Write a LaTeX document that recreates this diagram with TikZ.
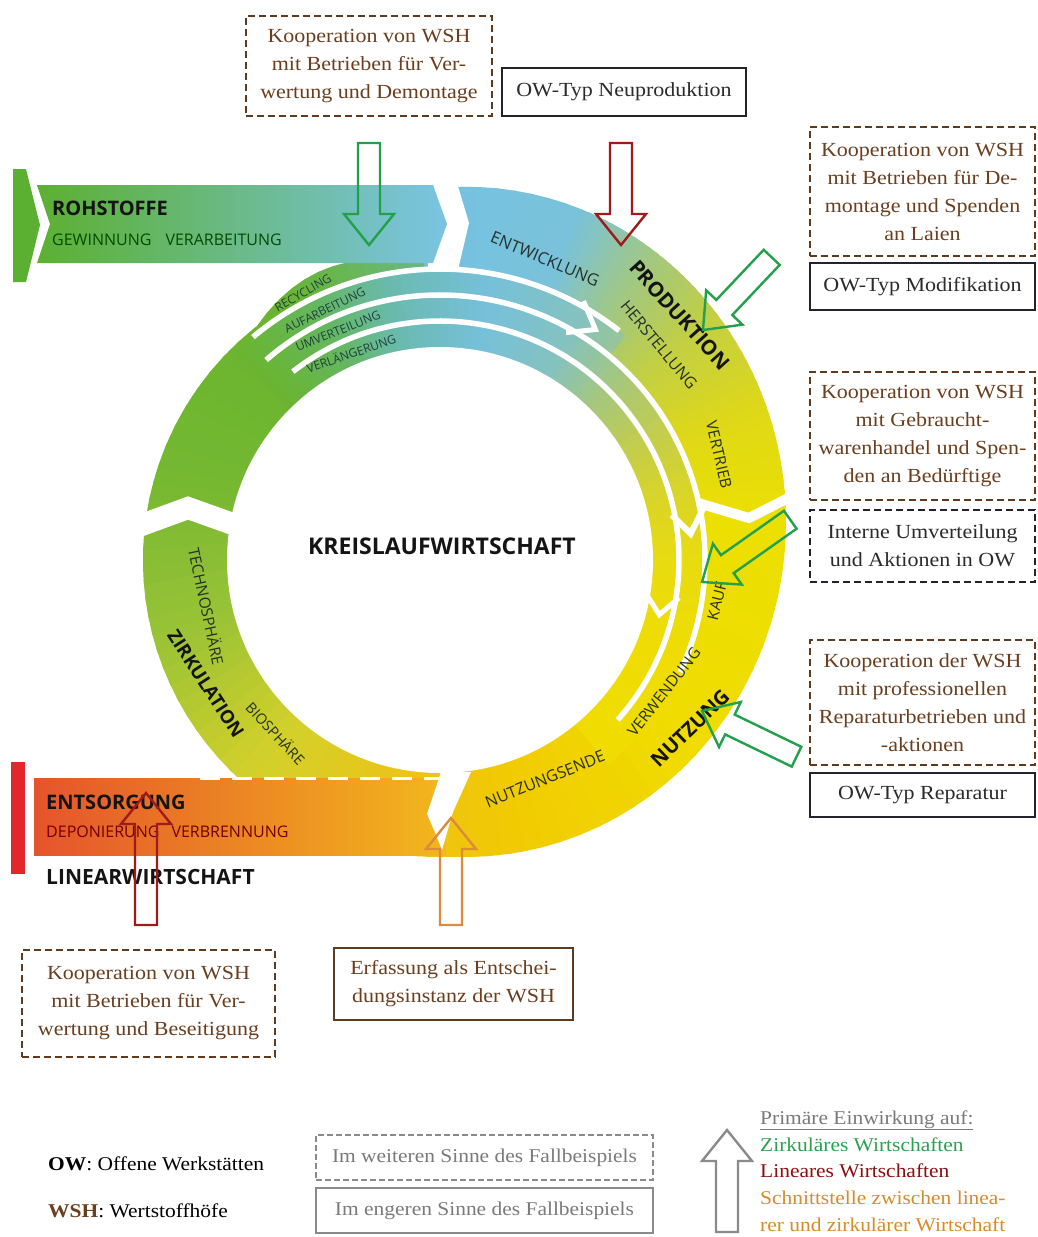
\documentclass[tikz,border=0pt]{standalone}
\usepackage{fontspec}
\setmainfont{Liberation Serif}
\newfontfamily\boxfont{Liberation Serif}[FakeStretch=1.1]
\newfontfamily\diafont{Open Sans}
\usetikzlibrary{calc}

% frame and text colours
\definecolor{cbrown}{HTML}{6A3E1E}
\definecolor{cbrownline}{HTML}{5E3A1E}
\definecolor{cnavy}{HTML}{23232F}
\definecolor{cdark}{HTML}{2B2B2B}
\definecolor{cgreenarrow}{HTML}{22A04C}
\definecolor{credarrow}{HTML}{A01A1A}
\definecolor{corangearrow}{HTML}{DC8A3C}
\definecolor{cgray}{HTML}{8A8A8A}
\definecolor{cgraytext}{HTML}{7A7A7A}
\definecolor{cgreentext}{HTML}{2DA050}
\definecolor{credtext}{HTML}{8B0F0F}
\definecolor{corangetext}{HTML}{D98B2B}
\definecolor{clabel}{HTML}{25302C}
\definecolor{clabelb}{HTML}{141414}
\definecolor{cthin}{HTML}{1F4040}
\definecolor{cbar}{HTML}{E3262B}
% ring colours (outer ring, by angle)
\definecolor{mA}{HTML}{74C1E3}
\definecolor{mB}{HTML}{7AC2DA}
\definecolor{mC}{HTML}{A2C880}
\definecolor{mD}{HTML}{C2CF44}
\definecolor{mE}{HTML}{E0D916}
\definecolor{mF}{HTML}{ECDF02}
\definecolor{mG}{HTML}{F0DC00}
\definecolor{mH}{HTML}{F1CB02}
\definecolor{mI}{HTML}{EFC214}
\definecolor{mJ}{HTML}{D4D02A}
\definecolor{mK}{HTML}{98C236}
\definecolor{mL}{HTML}{74B831}
\definecolor{mM}{HTML}{69B42F}
\definecolor{mN}{HTML}{68B882}
% inner loop colours
\definecolor{oA}{HTML}{6AB42E}
\definecolor{oB}{HTML}{64B762}
\definecolor{oC}{HTML}{6ABAB0}
\definecolor{oD}{HTML}{76C0DA}
\definecolor{oE}{HTML}{84C2C0}
\definecolor{oF}{HTML}{A6C77C}
\definecolor{oG}{HTML}{C4CD4C}
\definecolor{oH}{HTML}{DAD526}
\definecolor{oI}{HTML}{E8DB10}
\definecolor{oJ}{HTML}{EEDC04}
\definecolor{oK}{HTML}{F0DC00}
% bands
\definecolor{rohL}{HTML}{5CB031}
\definecolor{rohM}{HTML}{82C08E}
\definecolor{rohR}{HTML}{7AC4E4}
\definecolor{entL}{HTML}{E5542C}
\definecolor{entM}{HTML}{EE8A22}
\definecolor{entR}{HTML}{F2B81C}

% hollow block arrow: colour, tip, direction, length
\newcommand{\hollowarrow}[4]{%
  \draw[#1, line width=2.4pt, line join=miter, shift={#2}, rotate=#3]
    (0,0) -- (-31,25) -- (-31,11) -- (-#4,11) -- (-#4,-11) -- (-31,-11) -- (-31,-25) -- cycle;}

\begin{document}
\begin{tikzpicture}[x=1pt, y=1pt,
  coopbox/.style={draw=cbrownline, line width=2.3pt, dash pattern=on 7pt off 4pt,
    text=cbrown, font=\boxfont\fontsize{20}{28}\selectfont, align=center, inner sep=0pt, fill=white},
  owbox/.style={draw=cnavy, line width=2.3pt, text=cdark,
    font=\boxfont\fontsize{20}{28}\selectfont, align=center, inner sep=0pt, fill=white},
  owdash/.style={owbox, dash pattern=on 7pt off 4pt},
  erfbox/.style={draw=cbrownline, line width=2.3pt, text=cbrown,
    font=\boxfont\fontsize{20}{28}\selectfont, align=center, inner sep=0pt, fill=white},
  grayd/.style={draw=cgray, line width=1.8pt, dash pattern=on 6pt off 3pt, text=cgraytext,
    font=\boxfont\fontsize{19.5}{27}\selectfont, inner sep=0pt, minimum width=337, minimum height=45},
  grays/.style={draw=cgray, line width=1.8pt, text=cgraytext,
    font=\boxfont\fontsize{19.5}{27}\selectfont, inner sep=0pt, minimum width=337, minimum height=45},
  lbl/.style={font=\diafont\fontsize{15.5}{16}\selectfont, text=clabel, inner sep=0pt},
  lblb/.style={font=\diafont\bfseries\fontsize{20}{20}\selectfont, text=clabelb, inner sep=0pt},
  thinlbl/.style={font=\diafont\fontsize{12}{12}\selectfont, text=cthin, inner sep=0pt},
  legend/.style={font=\boxfont\fontsize{19.5}{27}\selectfont, anchor=base west, inner sep=0pt},
  gapline/.style={white, line join=miter},
]
\useasboundingbox (0,0) rectangle (1038,-1237);
\fill[white] (0,0) rectangle (1038,-1237);

% ---------- the ring ----------
\begin{scope}
  \clip (457,-187) arc[start angle=91.6, end angle=-90, x radius=320, y radius=335]
    -- (440,-857) arc[start angle=270, end angle=128, radius=297]
    .. controls (275,-300) and (305,-270) .. (350,-262) -- (350,-188) -- cycle;
  % outer ring, coloured by angle
  \begin{scope}[shift={(466,-522)}]
    \foreach \sa/\sb/\ca/\cb in {100/70/mA/mB, 70/55/mB/mC, 55/40/mC/mD, 40/20/mD/mE,
        20/0/mE/mF, 0/-45/mF/mG, -45/-80/mG/mH, -80/-100/mH/mI, -100/-130/mI/mJ,
        -130/-160/mJ/mK, -160/-190/mK/mL, -190/-230/mL/mM, -230/-260/mM/mN}{
      \foreach \i in {0,...,9}{
        \pgfmathsetmacro{\ta}{\sa+(\sb-\sa)*\i/10}
        \pgfmathsetmacro{\tb}{\sa+(\sb-\sa)*(\i+1)/10-0.8}
        \pgfmathtruncatemacro{\pc}{95-10*\i}
        \colorlet{wc}{\ca!\pc!\cb}
        \fill[wc] (0,0) -- (\ta:470) -- (\tb:470) -- cycle;
      }
    }
  \end{scope}
  % inner return loops
  \begin{scope}[shift={(440,-560)}]
    \foreach \sa/\sb/\ca/\cb in {135/115/oA/oB, 115/100/oB/oC, 100/80/oC/oD, 80/60/oD/oE,
        60/45/oE/oF, 45/30/oF/oG, 30/15/oG/oH, 15/0/oH/oI, 0/-20/oI/oJ, -20/-50/oJ/oK}{
      \foreach \i in {0,...,9}{
        \pgfmathsetmacro{\ta}{\sa+(\sb-\sa)*\i/10}
        \pgfmathsetmacro{\tb}{\sa+(\sb-\sa)*(\i+1)/10-0.6}
        \pgfmathsetmacro{\rr}{(\ta>52) ? 291 : 265}
        \pgfmathtruncatemacro{\pc}{95-10*\i}
        \colorlet{wc}{\ca!\pc!\cb}
        \fill[wc] (\ta:\rr) arc[start angle=\ta, end angle=\tb, radius=\rr]
          -- (\tb:205) arc[start angle=\tb, end angle=\ta, radius=205] -- cycle;
      }
    }
  \end{scope}
\end{scope}

% inner white field
\fill[white] (440,-560) circle[radius=213];

% white separators of the return loops and their ends
\begin{scope}[shift={(440,-560)}]
  \draw[white, line width=5.5] (130:291) arc[start angle=130, end angle=52, radius=291];
  \draw[white, line width=5.5] (131:265) arc[start angle=131, end angle=-25, radius=265];
  \draw[white, line width=5.5] (128:239) arc[start angle=128, end angle=-42, radius=239];
  \draw[gapline, line width=5] (61:296) -- (56:278) -- (61:260);
  \draw[gapline, line width=6] (11:268) -- (6:252) -- (11:236);
  \draw[gapline, line width=5] (-9:242) -- (-14:226) -- (-9:208);
\end{scope}
% break between Vertrieb and Kauf
\draw[gapline, line width=10] (698,-503) -- (749,-518) -- (800,-492);
% break on the left side
\draw[gapline, line width=22] (128,-530) -- (188,-508) -- (244,-528);
% gap between raw materials and development
\fill[white] (428,-183) -- (457,-183) -- (469,-223) -- (458,-270) -- (428,-270) -- cycle;

% ---------- raw materials band ----------
\fill[rohL] (13,-169) -- (26,-169) -- (40,-225) -- (26,-282) -- (13,-282) -- cycle;
\shade[left color=rohL, middle color=rohM, right color=rohR]
  (37,-185) -- (433,-185) -- (447,-224) -- (433,-263) -- (37,-263) -- (50,-224) -- cycle;

% ---------- disposal band ----------
\fill[cbar] (11,-762) rectangle (25,-874);
\shade[left color=entL, middle color=entM, right color=entR] (34,-778) rectangle (446,-855);
\draw[white, line width=3pt, dash pattern=on 20pt off 12pt] (200,-778) -- (440,-778);
\fill[white] (441,-772) -- (471,-772) -- (453,-812) -- (442,-850) -- (434,-830) -- (427,-814) -- cycle;

% ---------- labels on the bands ----------
\node[lblb, anchor=west] (rohst) at (52,-208) {ROHSTOFFE};
\node[lbl, anchor=west, text=green!30!black, font=\diafont\fontsize{16}{16}\selectfont] (gewinn) at (52,-240) {GEWINNUNG\hspace{14pt}VERARBEITUNG};
\node[lblb, anchor=west] (entsorg) at (46,-802) {ENTSORGUNG};
\node[lbl, anchor=west, text=red!45!black, font=\diafont\fontsize{16}{16}\selectfont] (depon) at (46,-832) {DEPONIERUNG\hspace{12pt}VERBRENNUNG};
\node[lblb, anchor=west, font=\diafont\bfseries\fontsize{21}{21}\selectfont] (linear) at (46,-877) {LINEARWIRTSCHAFT};
\node[lblb, font=\diafont\bfseries\fontsize{23}{23}\selectfont] (kreis) at (442,-546) {KREISLAUFWIRTSCHAFT};

\node[lbl, rotate=-23, font=\diafont\fontsize{16.5}{17}\selectfont] (entw) at (545,-259) {ENTWICKLUNG};
\node[lblb, rotate=-48, font=\diafont\bfseries\fontsize{20.5}{21}\selectfont] (prod) at (680,-315) {PRODUKTION};
\node[lbl, rotate=-50, font=\diafont\fontsize{16}{17}\selectfont] (herst) at (659,-345) {HERSTELLUNG};
\node[lbl, rotate=-77] (vertr) at (719,-455) {VERTRIEB};
\node[lbl, rotate=76] (kauf) at (717,-601) {KAUF};
\node[lbl, rotate=52] (verw) at (664,-692) {VERWENDUNG};
\node[lblb, rotate=44] (nutz) at (690,-728) {NUTZUNG};
\node[lbl, rotate=22, font=\diafont\fontsize{16}{16}\selectfont] (nende) at (545,-779) {NUTZUNGSENDE};
\node[lbl, rotate=-78] (techno) at (207,-606) {TECHNOSPHÄRE};
\node[lblb, rotate=-57, font=\diafont\bfseries\fontsize{18.5}{19}\selectfont] (zirk) at (206,-684) {ZIRKULATION};
\node[lbl, rotate=-47, font=\diafont\fontsize{14.5}{15}\selectfont] (bio) at (276,-733) {BIOSPHÄRE};

\node[thinlbl, rotate=30] (recyc) at (303,-293) {RECYCLING};
\node[thinlbl, rotate=26] (aufarb) at (325,-310) {AUFARBEITUNG};
\node[thinlbl, rotate=22] (umvert) at (338,-331) {UMVERTEILUNG};
\node[thinlbl, rotate=19] (verl) at (351,-353) {VERLÄNGERUNG};

% ---------- boxes ----------
\node[coopbox, minimum width=246, minimum height=100] (k1) at (369,-66)
  {Kooperation von WSH\\mit Betrieben für Ver-\\wertung und Demontage};
\node[owbox, minimum width=244, minimum height=48] (ow1) at (624,-92) {OW-Typ Neuproduktion};
\node[coopbox, minimum width=225, minimum height=129] (k2) at (922.5,-191.5)
  {Kooperation von WSH\\mit Betrieben für De-\\montage und Spenden\\an Laien};
\node[owbox, minimum width=225, minimum height=47] (ow2) at (922.5,-286.5) {OW-Typ Modifikation};
\node[coopbox, minimum width=225, minimum height=128] (k3) at (922.5,-436)
  {Kooperation von WSH\\mit Gebraucht-\\warenhandel und Spen-\\den an Bedürftige};
\node[owdash, minimum width=225, minimum height=72] (intern) at (922.5,-546)
  {Interne Umverteilung\\und Aktionen in OW};
\node[coopbox, minimum width=225, minimum height=125] (k4) at (922.5,-702.5)
  {Kooperation der WSH\\mit professionellen\\Reparaturbetrieben und\\-aktionen};
\node[owbox, minimum width=225, minimum height=44] (ow3) at (922.5,-795) {OW-Typ Reparatur};
\node[coopbox, minimum width=253, minimum height=107] (k5) at (148.5,-1003.5)
  {Kooperation von WSH\\mit Betrieben für Ver-\\wertung und Beseitigung};
\node[erfbox, minimum width=239, minimum height=72] (erf) at (453.5,-984)
  {Erfassung als Entschei-\\dungsinstanz der WSH};

% ---------- arrows of influence ----------
\coordinate (tipRec) at (369,-245);
\coordinate (tipNeu) at (621,-245);
\coordinate (tipMod) at (703,-330);
\coordinate (tipKauf) at (702,-582);
\coordinate (tipRep) at (702,-711);
\coordinate (tipBes) at (146,-793);
\coordinate (tipErf) at (451,-818);
\hollowarrow{cgreenarrow}{(tipRec)}{-90}{102}
\hollowarrow{credarrow}{(tipNeu)}{-90}{102}
\hollowarrow{cgreenarrow}{(tipMod)}{-133.4}{100}
\hollowarrow{cgreenarrow}{(tipKauf)}{-144.8}{108}
\hollowarrow{cgreenarrow}{(tipRep)}{154.2}{105}
\hollowarrow{credarrow}{(tipBes)}{90}{132}
\hollowarrow{corangearrow}{(tipErf)}{90}{107}

% ---------- legend ----------
\node[legend] (owdef) at (48,-1170) {\textbf{OW}: Offene Werkstätten};
\node[legend] (wshdef) at (48,-1217) {\textcolor{cbrown}{\textbf{WSH}}: Wertstoffhöfe};
\node[grayd] (weiter) at (484.5,-1157.5) {Im weiteren Sinne des Fallbeispiels};
\node[grays] (enger) at (484.5,-1210.5) {Im engeren Sinne des Fallbeispiels};
\coordinate (tipLeg) at (727,-1130);
\hollowarrow{cgray}{(tipLeg)}{90}{102}
\node[legend, text=cgraytext] (leg0) at (760,-1124) {\underline{Primäre Einwirkung auf:}};
\node[legend, text=cgreentext] (leg1) at (760,-1151) {Zirkuläres Wirtschaften};
\node[legend, text=credtext] (leg2) at (760,-1177) {Lineares Wirtschaften};
\node[legend, text=corangetext] (leg3) at (760,-1204) {Schnittstelle zwischen linea-};
\node[legend, text=corangetext] (leg4) at (760,-1231) {rer und zirkulärer Wirtschaft};
\end{tikzpicture}
\end{document}
